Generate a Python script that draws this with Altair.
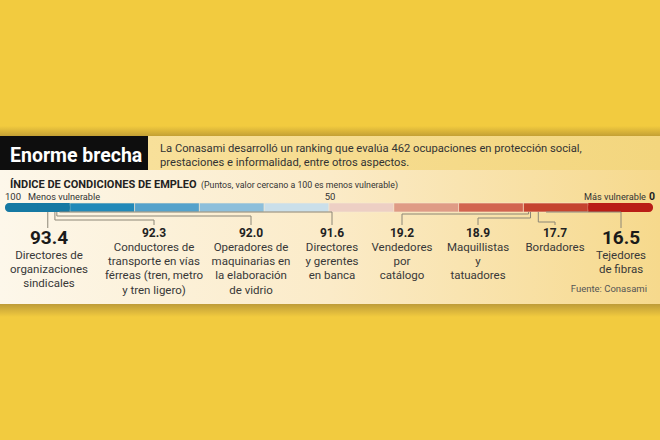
import altair as alt
import pandas as pd

# ---------------- data ----------------
VALUES = [93.4, 92.3, 92.0, 91.6, 19.2, 18.9, 17.7, 16.5]
VALUE_LABELS = ["93.4", "92.3", "92.0", "91.6", "19.2", "18.9", "17.7", "16.5"]
OCCUPATIONS = [
    "Directores de\norganizaciones\nsindicales",
    "Conductores de\ntransporte en vías\nférreas (tren, metro\ny tren ligero)",
    "Operadores de\nmaquinarias en\nla elaboración\nde vidrio",
    "Directores\ny gerentes\nen banca",
    "Vendedores\npor\ncatálogo",
    "Maquillistas\ny\ntatuadores",
    "Bordadores",
    "Tejedores\nde fibras",
]
SEG_START = [100, 90, 80, 70, 60, 50, 40, 30, 20, 10]
SEG_END = [90, 80, 70, 60, 50, 40, 30, 20, 10, 0]
SEG_COLORS = ["#1679A3", "#2289B8", "#55A2CB", "#8DBFDB", "#CADFEA",
              "#EDCFC4", "#DF9B85", "#D2644F", "#C5432F", "#B91D16"]

TITLE = "Enorme brecha"
INTRO = ["La Conasami desarrolló un ranking que evalúa 462 ocupaciones en protección social,",
         "prestaciones e informalidad, entre otros aspectos."]
INDEX_TITLE = "ÍNDICE DE CONDICIONES DE EMPLEO"
INDEX_SUB = "(Puntos, valor cercano a 100 es menos vulnerable)"
SOURCE = "Fuente: Conasami"

# ---------------- layout ----------------
W, H = 660, 440
FONT = "Roboto, sans-serif"
LABEL_X = [49, 154, 251, 332, 402, 478, 555, 621]
LEVEL_Y = [None, 220, 216, 212, 214, 218, 222, 212]
BIG = [True, False, False, False, False, False, False, True]
BAR_Y0, BAR_Y1 = 203, 212
LEADER = "#8C8677"

xs = alt.Scale(domain=[0, 100], range=[653, 5], nice=False, zero=False)
one = alt.Data(values=[{"a": 1}])


def box(x0, x1, y0, y1, color):
    return alt.Chart(one).mark_rect(color=color).encode(
        x=alt.value(x0), x2=alt.value(x1), y=alt.value(y0), y2=alt.value(y1))


def grad(x0, x1, y0, y1, colors, offsets, horizontal=True):
    g = alt.LinearGradient(
        gradient="linear", x1=0, y1=0,
        x2=1 if horizontal else 0, y2=0 if horizontal else 1,
        stops=[alt.GradientStop(color=c, offset=o) for c, o in zip(colors, offsets)])
    return alt.Chart(one).mark_rect(color=g).encode(
        x=alt.value(x0), x2=alt.value(x1), y=alt.value(y0), y2=alt.value(y1))


def txt(s, x, y, size, weight="normal", color="#2b2b2b", align="left", lh=14.2):
    df = pd.DataFrame({"t": [s]})
    return alt.Chart(df).mark_text(
        align=align, baseline="alphabetic", font=FONT, fontSize=size,
        fontWeight=weight, color=color, lineBreak="\n", lineHeight=lh
    ).encode(x=alt.value(x), y=alt.value(y), text="t:N")


layers = []
# shadows above / below the panel
layers.append(grad(0, W, 126, 136, ["#F2CB3F", "#C4A034"], [0, 1], horizontal=False))
layers.append(grad(0, W, 304, 317, ["#BE9C38", "#F2CB3F"], [0, 1], horizontal=False))
# header band
layers.append(grad(148, W, 136, 170, ["#F8E09A", "#F3D67E"], [0, 1]))
layers.append(box(0, 148, 136, 170, "#0E0E0E"))
# body panel
layers.append(grad(0, W, 170, 304, ["#FDF7EA", "#FBEBC8", "#F6D98C"], [0, 0.5, 1]))

# titles
layers.append(txt(TITLE, 10, 162, 19.5, "bold", "#FFFFFF"))
layers.append(txt(INTRO[0], 160, 152, 11.2, color="#333333"))
layers.append(txt(INTRO[1], 160, 166, 11.2, color="#333333"))
layers.append(txt(INDEX_TITLE, 10, 188, 11, "bold", "#222222"))
layers.append(txt(INDEX_SUB, 201, 188, 8.8, color="#333333"))
layers.append(txt("100", 5, 200, 9.5, color="#333333"))
layers.append(txt("Menos vulnerable", 28, 200, 9.2, color="#333333"))
layers.append(txt("50", 330, 200, 9.5, color="#333333", align="center"))
layers.append(txt("0", 655, 200, 10.5, "bold", "#222222", align="right"))
layers.append(txt("Más vulnerable", 646, 200, 9.2, color="#333333", align="right"))

# index bar
seg = pd.DataFrame({"s": SEG_START, "e": SEG_END, "c": SEG_COLORS})
ends = pd.DataFrame({"s": [SEG_START[0], SEG_START[-1]], "e": [SEG_END[0], SEG_END[-1]],
                     "c": [SEG_COLORS[0], SEG_COLORS[-1]]})
inner = pd.DataFrame({"s": [(SEG_START[0] + SEG_END[0]) / 2, SEG_START[-1]],
                      "e": [SEG_END[0], (SEG_START[-1] + SEG_END[-1]) / 2],
                      "c": [SEG_COLORS[0], SEG_COLORS[-1]]})
layers.append(alt.Chart(seg.iloc[1:-1]).mark_rect(stroke="#F6EBD2", strokeWidth=0.6).encode(
    x=alt.X("s:Q", scale=xs, axis=None), x2="e:Q",
    y=alt.value(BAR_Y0), y2=alt.value(BAR_Y1), color=alt.Color("c:N", scale=None)))
layers.append(alt.Chart(ends).mark_rect(cornerRadius=4).encode(
    x=alt.X("s:Q", scale=xs, axis=None), x2="e:Q",
    y=alt.value(BAR_Y0), y2=alt.value(BAR_Y1), color=alt.Color("c:N", scale=None)))
layers.append(alt.Chart(inner).mark_rect().encode(
    x=alt.X("s:Q", scale=xs, axis=None), x2="e:Q",
    y=alt.value(BAR_Y0), y2=alt.value(BAR_Y1), color=alt.Color("c:N", scale=None)))

# leaders and labels
for i, v in enumerate(VALUES):
    d = pd.DataFrame({"v": [v]})
    lx = LABEL_X[i]
    if LEVEL_Y[i] is None:
        layers.append(alt.Chart(d).mark_rule(color=LEADER, strokeWidth=1).encode(
            x=alt.X("v:Q", scale=xs, axis=None), y=alt.value(BAR_Y1), y2=alt.value(228)))
    else:
        ly = LEVEL_Y[i]
        layers.append(alt.Chart(d).mark_rule(color=LEADER, strokeWidth=1).encode(
            x=alt.X("v:Q", scale=xs, axis=None), y=alt.value(BAR_Y1), y2=alt.value(ly)))
        layers.append(alt.Chart(d).mark_rule(color=LEADER, strokeWidth=1).encode(
            x=alt.X("v:Q", scale=xs, axis=None), x2=alt.value(lx), y=alt.value(ly)))
        end = 228 if BIG[i] else 225
        layers.append(alt.Chart(d).mark_rule(color=LEADER, strokeWidth=1).encode(
            x=alt.value(lx), y=alt.value(ly), y2=alt.value(end)))
    if BIG[i]:
        layers.append(txt(VALUE_LABELS[i], lx, 244, 19, "bold", "#1a1a1a", "center"))
        layers.append(txt(OCCUPATIONS[i], lx, 259, 11.5, color="#383838", align="center"))
    else:
        layers.append(txt(VALUE_LABELS[i], lx, 237, 12, "bold", "#222222", "center"))
        layers.append(txt(OCCUPATIONS[i], lx, 251, 11.5, color="#383838", align="center"))

layers.append(txt(SOURCE, 647, 292, 9.5, color="#555555", align="right"))

chart = alt.layer(*layers).properties(
    width=W, height=H, padding=0, autosize=alt.AutoSizeParams(type="none")
).configure(background="#F2CB3F").configure_view(stroke=None)

chart.save("out.html", embed_options={"renderer": "svg", "actions": False})
